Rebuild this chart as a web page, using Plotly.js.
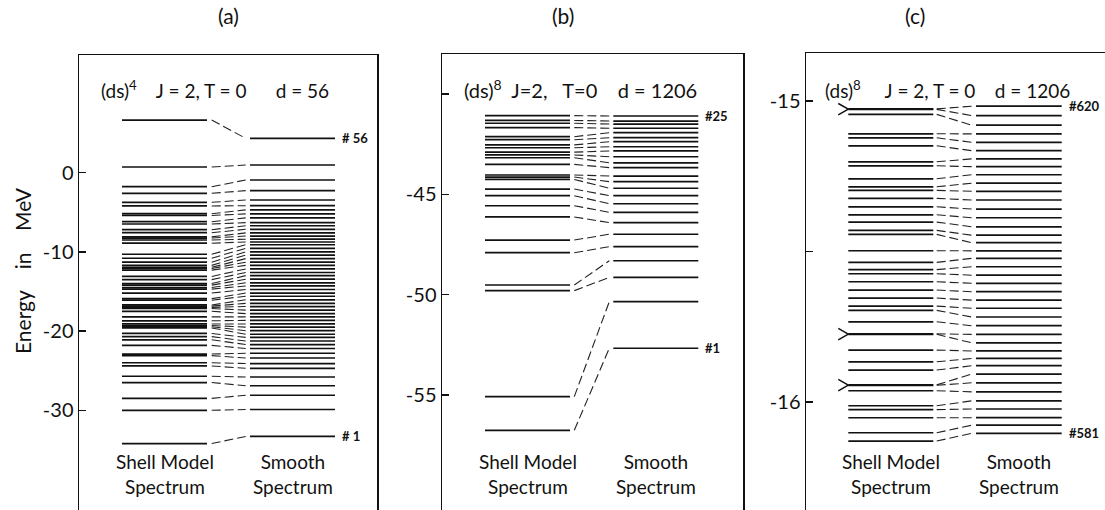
<!DOCTYPE html>
<html><head><meta charset="utf-8">
<script src="https://cdn.plot.ly/plotly-3.0.1.min.js"></script>
<style>html,body{margin:0;padding:0;background:#fff;overflow:hidden}</style>
</head><body><div id="chart" style="width:1105px;height:510px"></div>
<script>
// ---------------- data (energies in MeV) ----------------
const shellA = [6.64, 0.72, -1.77, -2.6, -3.74, -4.2, -5.18, -5.4, -6.19, -6.48, -7.2, -7.58, -8.1, -8.25, -8.5, -8.9,
  -10.3, -10.8, -11.3, -11.7, -11.95, -12.1, -12.3, -13.1, -13.5, -14.0, -14.2, -14.5, -14.7, -15.2, -15.9, -16.1,
  -16.7, -16.85, -17.0, -17.15, -17.5, -18.2, -18.7, -19.1, -19.3, -19.45, -19.6, -20.3, -20.7, -21.1, -21.8,
  -22.9, -23.1, -24.0, -24.4, -25.7, -26.5, -28.5, -30.0, -34.2];
const smoothA = [4.34, 0.97, -0.92, -2.27, -3.45, -4.17, -4.7, -5.2, -5.7, -6.3, -6.7, -7.15, -7.6, -8.0, -8.4, -8.75,
  -9.1, -9.55, -10.0, -10.4, -10.85, -11.3, -11.7, -12.15, -12.6, -13.0, -13.45, -13.9, -14.3, -14.75, -15.2, -15.6,
  -16.05, -16.5, -16.9, -17.35, -17.8, -18.2, -18.65, -19.1, -19.5, -19.95, -20.4, -20.8, -21.25, -21.7, -22.2,
  -22.8, -23.4, -24.1, -24.7, -25.8, -26.9, -28.1, -29.9, -33.3];
const shellB = [-41.08, -41.32, -41.46, -41.68, -42.13, -42.28, -42.54, -42.68, -42.9, -43.04, -43.18, -43.51,
  -44.04, -44.14, -44.26, -44.74, -45.07, -45.57, -46.13, -47.28, -47.91, -49.52, -49.80, -55.08, -56.76];
const smoothB = [-41.10, -41.35, -41.50, -41.71, -41.93, -42.18, -42.38, -42.63, -42.84, -43.13, -43.43, -43.67,
  -44.09, -44.37, -44.70, -45.07, -45.47, -45.90, -46.41, -46.99, -47.61, -48.31, -49.14, -50.35, -52.67];
const shellC = [-15.0260, -15.0275, -15.0442, -15.1087, -15.1220, -15.1487, -15.2019, -15.2152, -15.2584, -15.2850,
  -15.2970, -15.3236, -15.3515, -15.3781, -15.4024, -15.4300, -15.4433, -15.4978, -15.5364, -15.5604, -15.5743,
  -15.6009, -15.6285, -15.6551, -15.6818, -15.6961, -15.7340, -15.7742, -15.7756, -15.8281, -15.8670, -15.8946,
  -15.9438, -15.9452, -15.9634, -16.0133, -16.0260, -16.0532, -16.1031, -16.1307];
const smoothC = [-15.017, -15.048, -15.080, -15.109, -15.137, -15.165, -15.192, -15.218, -15.245, -15.273, -15.300,
  -15.329, -15.359, -15.388, -15.418, -15.446, -15.471, -15.498, -15.523, -15.551, -15.579, -15.606, -15.634,
  -15.662, -15.689, -15.718, -15.747, -15.776, -15.804, -15.831, -15.856, -15.880, -15.908, -15.937, -15.967,
  -15.997, -16.024, -16.053, -16.078, -16.105];
const degenerateC = [-15.027, -15.775, -15.9445];

const panelTitles = ['(a)', '(b)', '(c)'];
const headerTexts = [
  '(ds)<sup>4</sup>\u00a0\u00a0\u00a0 J = 2, T = 0\u00a0\u00a0\u00a0\u00a0\u00a0 d = 56',
  '(ds)<sup>8</sup>\u00a0 J=2,\u00a0\u00a0 T=0\u00a0\u00a0\u00a0 d = 1206',
  '(ds)<sup>8</sup>\u00a0\u00a0\u00a0\u00a0 J = 2, T = 0\u00a0\u00a0\u00a0 d = 1206'];
const tickValsA = [0, -10, -20, -30], tickTextA = ['0', '-10', '-20', '-30'], minorTicksA = [];
const tickValsB = [-45, -50, -55], tickTextB = ['-45', '-50', '-55'], minorTicksB = [-40];
const tickValsC = [-15, -16], tickTextC = ['-15', '-16'], minorTicksC = [-15.5];
const topLabels = ['# 56', '#25', '#620'];
const bottomLabels = ['# 1', '#1', '#581'];
const shellLabel = 'Shell Model<br>Spectrum';
const smoothLabel = 'Smooth<br>Spectrum';
const yTitle = 'Energy\u00a0\u00a0\u00a0\u00a0in\u00a0\u00a0\u00a0\u00a0MeV';

// ---------------- geometry / style ----------------
const W = 1105, H = 510;
const FONT = 'Lato, "Noto Sans", sans-serif';
const panels = [
  {shell: shellA, smooth: smoothA, ticks: [tickValsA, tickTextA, minorTicksA], left: 79, right: 377, top: 55, yr: [-42.59, 14.86],
   cols: {s: [43, 128], c: [132.7, 166.7], m: [171, 256]}, mirror: true},
  {shell: shellB, smooth: smoothB, ticks: [tickValsB, tickTextB, minorTicksB], left: 442, right: 743, top: 54, yr: [-60.73, -38.01],
   cols: {s: [43, 128], c: [132.3, 167.3], m: [171.3, 256.3]}, mirror: true},
  {shell: shellC, smooth: smoothC, ticks: [tickValsC, tickTextC, minorTicksC], left: 806, right: 1105, top: 53, yr: [-16.360, -14.840],
   cols: {s: [42.3, 127.3], c: [130.7, 165.7], m: [170, 255.7]}, mirror: false}
];
const titleX = [228, 563, 915];
const headerX = [99, 462, 823];
const headerSize = [19, 20, 19];
const chevron = {w: 10, h: 0.019};

const traces = [], annotations = [], layout = {};
const px = x => x / W, py = y => 1 - y / H;

panels.forEach((p, i) => {
  const s = i === 0 ? '' : String(i + 1);
  const xa = 'x' + s, ya = 'y' + s;
  const lev = (arr, c) => {
    const x = [], y = [];
    arr.forEach(e => { x.push(c[0], c[1], null); y.push(e, e, null); });
    return {x, y};
  };
  const sh = lev(p.shell, p.cols.s), sm = lev(p.smooth, p.cols.m);
  const common = {type: 'scatter', mode: 'lines', xaxis: xa, yaxis: ya, hoverinfo: 'skip', showlegend: false};
  traces.push(Object.assign({}, common, {x: sh.x, y: sh.y, line: {color: '#111', width: 1.7}}));
  traces.push(Object.assign({}, common, {x: sm.x, y: sm.y, line: {color: '#111', width: 1.7}}));
  const a = p.shell.slice().sort((u, v) => u - v), b = p.smooth.slice().sort((u, v) => u - v);
  const cx = [], cy = [];
  a.forEach((e, k) => { cx.push(p.cols.c[0], p.cols.c[1], null); cy.push(e, b[k], null); });
  traces.push(Object.assign({}, common, {x: cx, y: cy, line: {color: '#222', width: 1.1, dash: '9px,4px'}}));
  if (i === 2) {
    const hx = [], hy = [];
    degenerateC.forEach(e => {
      hx.push(p.cols.s[0] - chevron.w, p.cols.s[0], p.cols.s[0] - chevron.w, null);
      hy.push(e + chevron.h, e, e - chevron.h, null);
    });
    traces.push(Object.assign({}, common, {x: hx, y: hy, line: {color: '#111', width: 1.5}}));
  }
  layout['xaxis' + s] = {domain: [px(p.left), i === 2 ? 1 : px(p.right)], range: [0, p.right - p.left],
    side: 'top', anchor: ya, showline: true, linecolor: '#111', linewidth: 1.5, ticks: '',
    showticklabels: false, showgrid: false, zeroline: false, fixedrange: true};
  const yax = {domain: [0, 1 - p.top / H], range: p.yr, anchor: xa, showline: true, mirror: p.mirror,
    linecolor: '#111', linewidth: 1.5, ticks: 'inside', ticklen: 7, tickwidth: 1.5, tickcolor: '#111',
    tickmode: 'array', tickvals: p.ticks[0], ticktext: p.ticks[1], tickfont: {family: FONT, size: 20, color: '#111'},
    showgrid: false, zeroline: false, fixedrange: true};
  if (p.ticks[2].length) {
    yax.minor = {tickmode: 'array', tickvals: p.ticks[2], ticks: 'inside', ticklen: 7, tickwidth: 1.5,
      tickcolor: '#111', showgrid: false};
  }
  layout['yaxis' + s] = yax;
  annotations.push({text: panelTitles[i], xref: 'paper', yref: 'paper', x: px(titleX[i]), y: py(15),
    xanchor: 'center', yanchor: 'middle', showarrow: false, font: {family: FONT, size: 21, color: '#111'}});
  annotations.push({text: headerTexts[i], xref: 'paper', yref: 'paper', x: px(headerX[i]), y: py(89),
    xanchor: 'left', yanchor: 'middle', showarrow: false, font: {family: FONT, size: headerSize[i], color: '#111'}});
  const top = Math.max.apply(null, p.smooth), bot = Math.min.apply(null, p.smooth);
  annotations.push({text: '<b>' + topLabels[i] + '</b>', xref: xa, yref: ya, x: p.cols.m[1] + 5, y: top,
    xanchor: 'left', yanchor: 'middle', showarrow: false, font: {family: FONT, size: 13, color: '#111'}});
  annotations.push({text: '<b>' + bottomLabels[i] + '</b>', xref: xa, yref: ya, x: p.cols.m[1] + 5, y: bot,
    xanchor: 'left', yanchor: 'middle', showarrow: false, font: {family: FONT, size: 13, color: '#111'}});
  annotations.push({text: shellLabel, xref: xa, yref: 'paper', x: (p.cols.s[0] + p.cols.s[1]) / 2, y: py(474),
    xanchor: 'center', yanchor: 'middle', showarrow: false, font: {family: FONT, size: 19, color: '#111'}});
  annotations.push({text: smoothLabel, xref: xa, yref: 'paper', x: (p.cols.m[0] + p.cols.m[1]) / 2, y: py(474),
    xanchor: 'center', yanchor: 'middle', showarrow: false, font: {family: FONT, size: 19, color: '#111'}});
});
annotations.push({text: yTitle, xref: 'paper', yref: 'paper', x: px(22), y: py(271), textangle: -90,
  xanchor: 'center', yanchor: 'middle', showarrow: false, font: {family: FONT, size: 21, color: '#111'}});

Object.assign(layout, {width: W, height: H, margin: {l: 0, r: 0, t: 0, b: 0}, paper_bgcolor: '#fff',
  plot_bgcolor: 'rgba(0,0,0,0)', showlegend: false, annotations: annotations, font: {family: FONT, color: '#111'}});

Plotly.newPlot('chart', traces, layout, {staticPlot: true, displayModeBar: false});
</script></body></html>
